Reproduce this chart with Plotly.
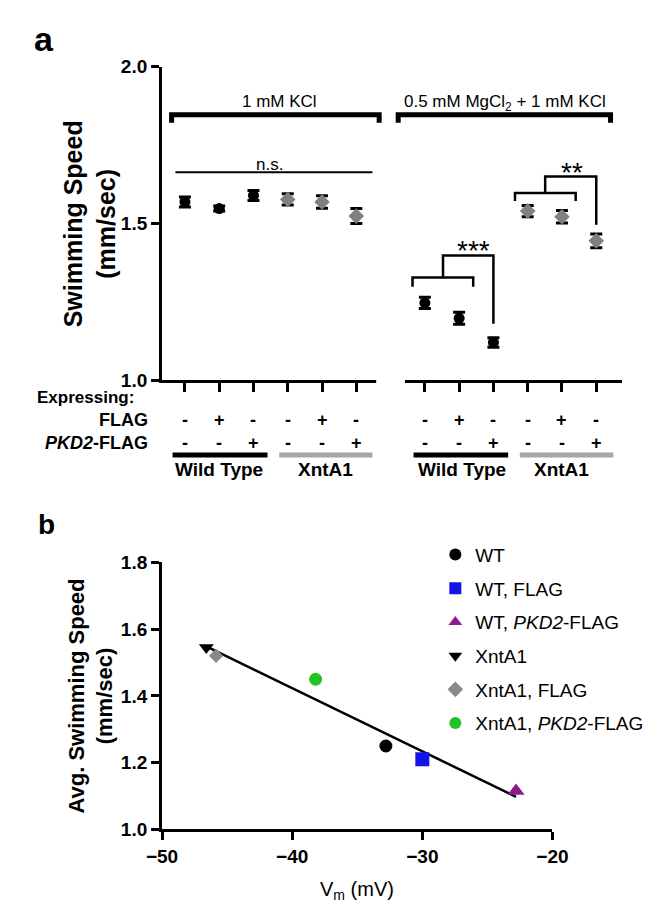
import numpy as np
import plotly.graph_objects as go

W, H = 669, 906
def px(x): return x / W
def py(y): return 1 - y / H

FONT = "Liberation Sans"

# ---------------- data: panel a ----------------
groups = ["Wild Type", "XntA1"]
conditions = ["1 mM KCl", "0.5 mM MgCl<sub>2</sub> + 1 mM KCl"]
flag_row = ["-", "+", "-", "-", "+", "-"]
pkd2_row = ["-", "-", "+", "-", "-", "+"]
speed_kcl = [1.569, 1.548, 1.590, 1.577, 1.569, 1.524]
err_kcl = [0.016, 0.008, 0.016, 0.018, 0.020, 0.024]
speed_mg = [1.247, 1.198, 1.121, 1.540, 1.522, 1.445]
err_mg = [0.018, 0.019, 0.015, 0.018, 0.020, 0.022]
x_kcl = [1, 2, 3, 4, 5, 6]
x_mg = [8, 9, 10, 11, 12, 13]

# ---------------- data: panel b ----------------
legend_names = ["WT", "WT, FLAG", "WT, <i>PKD2</i>-FLAG",
                "XntA1", "XntA1, FLAG", "XntA1, <i>PKD2</i>-FLAG"]
vm = [-32.8, -30.0, -22.8, -46.6, -45.85, -38.2]
avg_speed = [1.25, 1.21, 1.115, 1.545, 1.52, 1.45]
b_symbols = ["circle", "square", "triangle-up", "triangle-down", "diamond", "circle"]
b_colors = ["#000000", "#1414e8", "#8e1a8e", "#000000", "#8a8a8a", "#22c322"]
b_sizes = [13, 14, 15, 13, 11, 13]

fig = go.Figure()

# panel a points
for xs, ys, es in [(x_kcl, speed_kcl, err_kcl), (x_mg, speed_mg, err_mg)]:
    fig.add_trace(go.Scatter(
        x=xs[:3], y=ys[:3], mode="markers", showlegend=False,
        marker=dict(symbol="circle", size=11, color="black"),
        error_y=dict(type="data", array=es[:3], color="black", thickness=3, width=6),
        xaxis="x", yaxis="y"))
    fig.add_trace(go.Scatter(
        x=xs[3:], y=ys[3:], mode="markers", showlegend=False,
        marker=dict(symbol="diamond", size=12, color="#808080"),
        error_y=dict(type="data", array=es[3:], color="black", thickness=3, width=6),
        xaxis="x", yaxis="y"))

# panel b regression line
slope, icpt = np.polyfit(vm, avg_speed, 1)
xl = np.array([min(vm), max(vm)])
fig.add_trace(go.Scatter(x=xl, y=slope * xl + icpt, mode="lines",
                         line=dict(color="black", width=2.5), showlegend=False,
                         xaxis="x2", yaxis="y2"))
for i in range(len(vm)):
    fig.add_trace(go.Scatter(
        x=[vm[i]], y=[avg_speed[i]], mode="markers", name=legend_names[i],
        legendgroup=str(i),
        marker=dict(symbol=b_symbols[i], size=b_sizes[i], color=b_colors[i]),
        xaxis="x2", yaxis="y2"))

axis_common = dict(showline=True, linewidth=3, linecolor="black", ticks="outside",
                   tickwidth=3, tickcolor="black", showgrid=False, zeroline=False,
                   tickfont=dict(family=FONT, size=19, color="black", weight="bold"))

fig.update_layout(
    width=W, height=H, margin=dict(l=0, r=0, t=0, b=0),
    paper_bgcolor="white", plot_bgcolor="white",
    font=dict(family=FONT, color="black"),
    xaxis=dict(domain=[px(145), px(627.7)], range=[0.333, 13.742], anchor="y",
               tickvals=x_kcl + x_mg, showticklabels=False, ticklen=9, **axis_common),
    yaxis=dict(domain=[py(371), py(50)], range=[1.0, 2.0], anchor="x",
               tickvals=[1.0, 1.5, 2.0], tickformat=".1f", ticklen=8, **axis_common),
    xaxis2=dict(domain=[px(145), px(555)], range=[-50, -20], anchor="y2",
                tickvals=[-50, -40, -30, -20], ticklen=8, **axis_common),
    yaxis2=dict(domain=[py(830.7), py(557.3)], range=[1.0, 1.8], anchor="x2",
                tickvals=[1.0, 1.2, 1.4, 1.6, 1.8], tickformat=".1f", ticklen=8, **axis_common),
    legend=dict(x=px(432), y=py(530), xanchor="left", yanchor="top",
                font=dict(family=FONT, size=19, color="black"),
                itemsizing="constant", tracegroupgap=6, bgcolor="rgba(0,0,0,0)"),
)

shapes = []
def path(pts, width, color="black", xref="x", yref="y"):
    d = "M " + " L ".join(f"{a},{b}" for a, b in pts)
    return dict(type="path", path=d, xref=xref, yref=yref,
                line=dict(color=color, width=width))

# condition brackets
shapes.append(path([(0.611, 1.822), (0.611, 1.847), (6.667, 1.847), (6.667, 1.822)], 5))
shapes.append(path([(7.222, 1.822), (7.222, 1.847), (13.417, 1.847), (13.417, 1.822)], 5))
# n.s. line
shapes.append(dict(type="line", x0=0.722, x1=6.47, y0=1.664, y1=1.664, xref="x", yref="y",
                   line=dict(color="black", width=2)))
# *** bracket
shapes.append(path([(7.64, 1.299), (7.64, 1.328), (9.41, 1.328), (9.41, 1.299)], 2.5))
shapes.append(path([(8.53, 1.328), (8.53, 1.398), (10.0, 1.398), (10.0, 1.181)], 2.5))
# ** bracket
shapes.append(path([(10.63, 1.572), (10.63, 1.598), (12.4, 1.598), (12.4, 1.572)], 2.5))
shapes.append(path([(11.51, 1.598), (11.51, 1.650), (13.0, 1.650), (13.0, 1.496)], 2.5))
# genotype underline bars
for x0, x1, col in [(0.64, 3.41, "black"), (3.75, 6.47, "#a6a6a6"),
                    (7.67, 10.43, "black"), (10.77, 13.5, "#a6a6a6")]:
    shapes.append(dict(type="line", x0=x0, x1=x1, y0=py(447.3), y1=py(447.3),
                       xref="x", yref="paper", line=dict(color=col, width=5)))
# axis break
shapes.append(dict(type="rect", x0=6.58, x1=7.42, y0=py(376), y1=py(366),
                   xref="x", yref="paper", fillcolor="white", line=dict(width=0),
                   layer="above"))
fig.update_layout(shapes=shapes)

ann = []
def A(text, x, y, size, xref="paper", yref="paper", bold=False, xanchor="center",
      yanchor="middle", angle=0, family=FONT):
    ann.append(dict(text=text, x=x, y=y, xref=xref, yref=yref, showarrow=False,
                    xanchor=xanchor, yanchor=yanchor, textangle=angle,
                    font=dict(family=family, size=size, color="black",
                              weight="bold" if bold else "normal")))

A("a", px(21.5), py(21), 34, bold=True)
A("b", px(23.5), py(519), 28, bold=True)
A(conditions[0], 3.75, py(85), 17, xref="x")
A(conditions[1], 10.33, py(87), 17, xref="x")
A("n.s.", 3.47, py(150), 17, xref="x")
A("***", 9.41, py(238), 28, xref="x")
A("**", 12.28, py(158), 28, xref="x")
A("Swimming Speed<br>(mm/sec)", px(69), py(210.5), 25, bold=True, angle=-90)
A("Avg. Swimming Speed<br>(mm/sec)", px(70), py(694), 22, bold=True, angle=-90)
A("V<sub>m</sub> (mV)", px(350), py(893), 20)
A("Expressing:", px(12), py(389), 17, bold=True, xanchor="left",
  family="Liberation Sans Narrow, " + FONT)
A("FLAG", px(132), py(411.7), 18, bold=True, xanchor="right")
A("<i>PKD2</i>-FLAG", px(132), py(435), 18, bold=True, xanchor="right")
for xs in (x_kcl, x_mg):
    for i, xv in enumerate(xs):
        A(flag_row[i], xv, py(411.7), 18, xref="x", bold=True)
        A(pkd2_row[i], xv, py(435), 18, xref="x", bold=True)
for xc, g in [(2.0, groups[0]), (5.1, groups[1]), (9.08, groups[0]), (12.0, groups[1])]:
    A(g, xc, py(462.3), 19, xref="x", bold=True)
fig.update_layout(annotations=ann)

fig.write_html("out.html")
